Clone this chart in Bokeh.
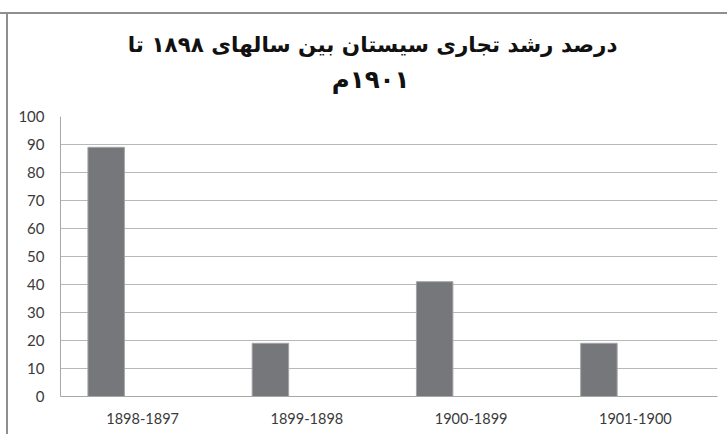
from bokeh.plotting import figure
from bokeh.models import FactorRange, Title, FixedTicker, ColumnDataSource, Div
from bokeh.layouts import column, row
from bokeh.transform import dodge
from bokeh.embed import file_html
from bokeh.resources import INLINE

categories = ["1898-1897", "1899-1898", "1900-1899", "1901-1900"]
growth = [89, 19, 41, 19]
y_ticks = [0, 10, 20, 30, 40, 50, 60, 70, 80, 90, 100]
title_line1 = "درصد رشد تجاری سیستان بین سالهای ۱۸۹۸ تا"
title_line2 = "\u200f۱۹۰۱م"

src = ColumnDataSource(dict(cat=categories, val=growth))

p = figure(x_range=FactorRange(*categories), y_range=(0, 100),
           width=719, height=420, output_backend="svg", toolbar_location=None,
           title=None, min_border_left=52, min_border_right=10,
           min_border_top=102, min_border_bottom=38)

p.vbar(x=dodge("cat", -0.222, range=p.x_range), top="val", width=0.222, source=src,
       fill_color="#76777b", line_color="#a4a4a4", line_width=1)

tfont = dict(text_font="DejaVu Sans", text_font_style="bold", text_color="#111111")
# blank spacer panel between the plot area and the title
p.add_layout(Title(text=" ", align="right", offset=0, standoff=-4,
                   text_font_size="21.5px", **tfont), "above")
p.add_layout(Title(text=title_line2, align="right", offset=308, standoff=0,
                   text_font_size="24.5px", **tfont), "above")
p.add_layout(Title(text=title_line1, align="right", offset=100, standoff=12,
                   text_font_size="21.5px", **tfont), "above")

p.outline_line_color = None
p.xgrid.grid_line_color = None
p.ygrid.grid_line_color = "#b8b8b8"
p.ygrid.grid_line_width = 1

p.yaxis.ticker = FixedTicker(ticks=y_ticks)
for ax in (p.xaxis, p.yaxis):
    ax.major_tick_line_color = None
    ax.minor_tick_line_color = None
    ax.axis_line_color = "#a8a8a8"
    ax.major_label_text_font = "Lato"
    ax.major_label_text_color = "#3a3a3a"
p.yaxis.major_label_text_font_size = "15px"
p.xaxis.major_label_text_font_size = "14.5px"
p.yaxis.major_label_standoff = 10
p.xaxis.major_label_standoff = 10

top_border = Div(width=727, height=14, margin=(0, 0, 0, 0),
                 styles={"border-bottom": "2px solid #8f8f8f", "box-sizing": "border-box"})
left_border = Div(width=8, height=420, margin=(0, 0, 0, 0),
                  styles={"border-right": "2px solid #8f8f8f", "box-sizing": "border-box"})
layout = column(top_border, row(left_border, p, spacing=0), spacing=0)

open("out.html", "w").write(file_html(layout, INLINE))
